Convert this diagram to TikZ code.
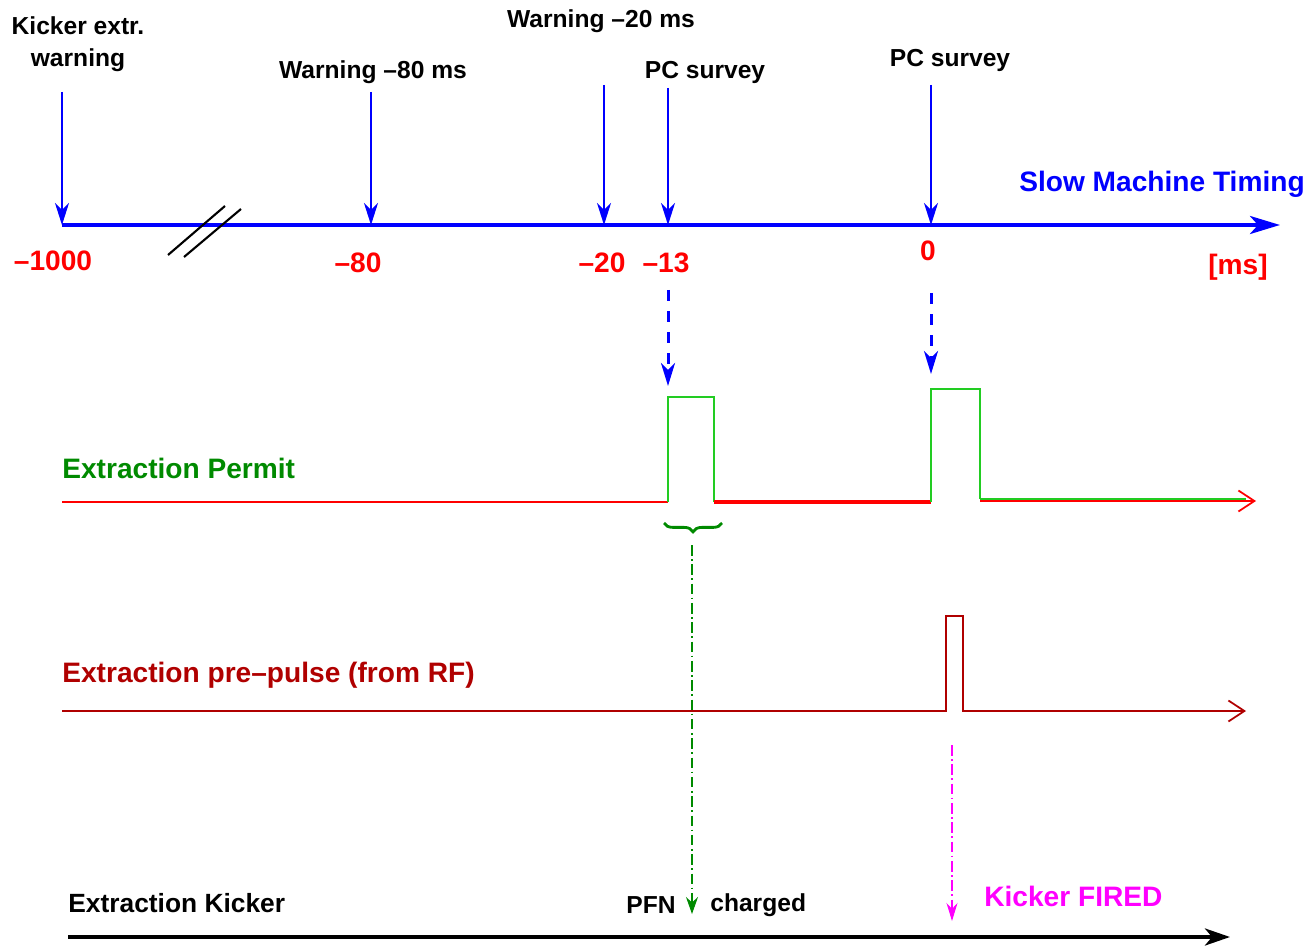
\documentclass[tikz,border=0pt]{standalone}
\usepackage{fontspec}
\setmainfont{Liberation Sans}
\usetikzlibrary{arrows.meta,positioning,calc,decorations.pathreplacing}
\definecolor{smtblue}{HTML}{0000FF}
\definecolor{smtred}{HTML}{FF0000}
\definecolor{permitgreen}{HTML}{22CC22}
\definecolor{permitdark}{HTML}{008A00}
\definecolor{prepulsered}{HTML}{B00000}
\definecolor{firedmagenta}{HTML}{FF00FF}

\begin{document}
\begin{tikzpicture}[
  x=0.02cm, y=-0.02cm,
  every node/.style={inner sep=0pt, font=\fontsize{14}{16}\selectfont\bfseries},
  evlabel/.style={black, align=center},
  msvalue/.style={smtred, font=\fontsize{16}{18}\selectfont\bfseries},
  siglabel/.style={anchor=west, font=\fontsize{16}{18}\selectfont\bfseries},
  evarrow/.style={smtblue, line width=1.1pt, -{Stealth[length=4.4mm, width=2.8mm, inset=1.4mm]}},
  linkarrow/.style={smtblue, line width=1.7pt, dash pattern=on 6pt off 6pt,
    -{Stealth[length=4.6mm, width=2.8mm, inset=1.4mm]}},
  signal/.style={line width=1pt},
  openarrow/.style={-{Straight Barb[length=3.2mm, width=4.2mm]}}]
\useasboundingbox (0,0) rectangle (1312,949);

% slow machine timing axis
\coordinate (axstart) at (62,225);
\coordinate (axend) at (1280,225);
\draw[smtblue, line width=2.3pt, -{Stealth[length=6mm, width=3.6mm, inset=1.6mm]}]
  (axstart) -- (axend);
\foreach \tx/\ty/\nm in {62/92/k, 371/92/w80, 604/85/w20, 668/88/pc1, 931/85/pc2} {
  \coordinate (top\nm) at (\tx,\ty);
  \coordinate (ax\nm) at (\tx,225);
  \draw[evarrow] (top\nm) -- (ax\nm);}
% break mark
\draw[black, line width=1.2pt] (168,255) -- (225,206) (184,257) -- (241,209);

\node[evlabel] (lblk) at (78,44) {Kicker extr.\\[2pt]warning};
\node[evlabel] (lblw80) at (373,72) {Warning --80 ms};
\node[evlabel] (lblw20) at (601,21) {Warning --20 ms};
\node[evlabel] (lblpc1) at (705,72) {PC survey};
\node[evlabel] (lblpc2) at (950,60) {PC survey};
\node[smtblue, anchor=east, font=\fontsize{16}{18}\selectfont\bfseries] (smt)
  at (1305,184) {Slow Machine Timing};

\node[msvalue] (v1000) at (53,261) {--1000};
\node[msvalue] (v80) at (358,263) {--80};
\node[msvalue] (v20) at (602,263) {--20};
\node[msvalue] (v13) at (666,263) {--13};
\node[msvalue] (v0) at (928,251) {0};
\node[msvalue] (vms) at (1238,267) {[ms]};

% links to extraction permit
\coordinate (lk1a) at (668,290);
\coordinate (lk1b) at (668,386);
\coordinate (lk2a) at (931,293);
\coordinate (lk2b) at (931,374);
\draw[linkarrow] (lk1a) -- (lk1b);
\draw[linkarrow] (lk2a) -- (lk2b);

% extraction permit
\node[siglabel, permitdark] (permit) at (62,468) {Extraction Permit};
\draw[signal, smtred] (62,502) -- (668,502);
\draw[signal, permitgreen] (668,502) -- (668,397) -- (714,397) -- (714,502);
\draw[smtred, line width=2.2pt] (714,502) -- (931,502);
\draw[signal, permitgreen] (931,502) -- (931,389) -- (980,389) -- (980,499);
\draw[signal, smtred, openarrow] (980,501) -- (1256,501);
\draw[signal, permitgreen] (980,499) -- (1246,499);
\draw[permitdark, line width=1.6pt, decorate,
  decoration={brace, mirror, amplitude=5pt}] (664,523) -- (722,523);

% extraction pre-pulse
\node[siglabel, prepulsered] (prepulse) at (62,675) {Extraction pre--pulse (from RF)};
\draw[signal, prepulsered, openarrow]
  (62,711) -- (946,711) -- (946,616) -- (963,616) -- (963,711) -- (1246,711);

% extraction kicker
\node[siglabel, black, font=\fontsize{15}{17}\selectfont\bfseries] (kicker)
  at (68,903) {Extraction Kicker};
\coordinate (kstart) at (68,937);
\coordinate (kend) at (1230,937);
\draw[black, line width=2.2pt, -{Stealth[length=5mm, width=3.4mm, inset=1.4mm]}]
  (kstart) -- (kend);

\coordinate (pfna) at (692,545);
\coordinate (pfnb) at (692,914);
\draw[permitdark, line width=0.6pt, dash pattern=on 6pt off 2pt on 1pt off 2pt,
  -{Stealth[length=3.4mm, width=2.4mm]}] (pfna) -- (pfnb);
\node[anchor=east] (pfn) at (676,905) {PFN};
\node[anchor=west] (charged) at (710,905) {charged};

\coordinate (fireda) at (952,745);
\coordinate (firedb) at (952,921);
\draw[firedmagenta, line width=0.6pt, dash pattern=on 6pt off 2pt on 1pt off 2pt,
  -{Stealth[length=3.6mm, width=2.2mm]}] (fireda) -- (firedb);
\node[anchor=west, firedmagenta, font=\fontsize{16}{18}\selectfont\bfseries]
  (fired) at (984,896) {Kicker FIRED};
\end{tikzpicture}
\end{document}
